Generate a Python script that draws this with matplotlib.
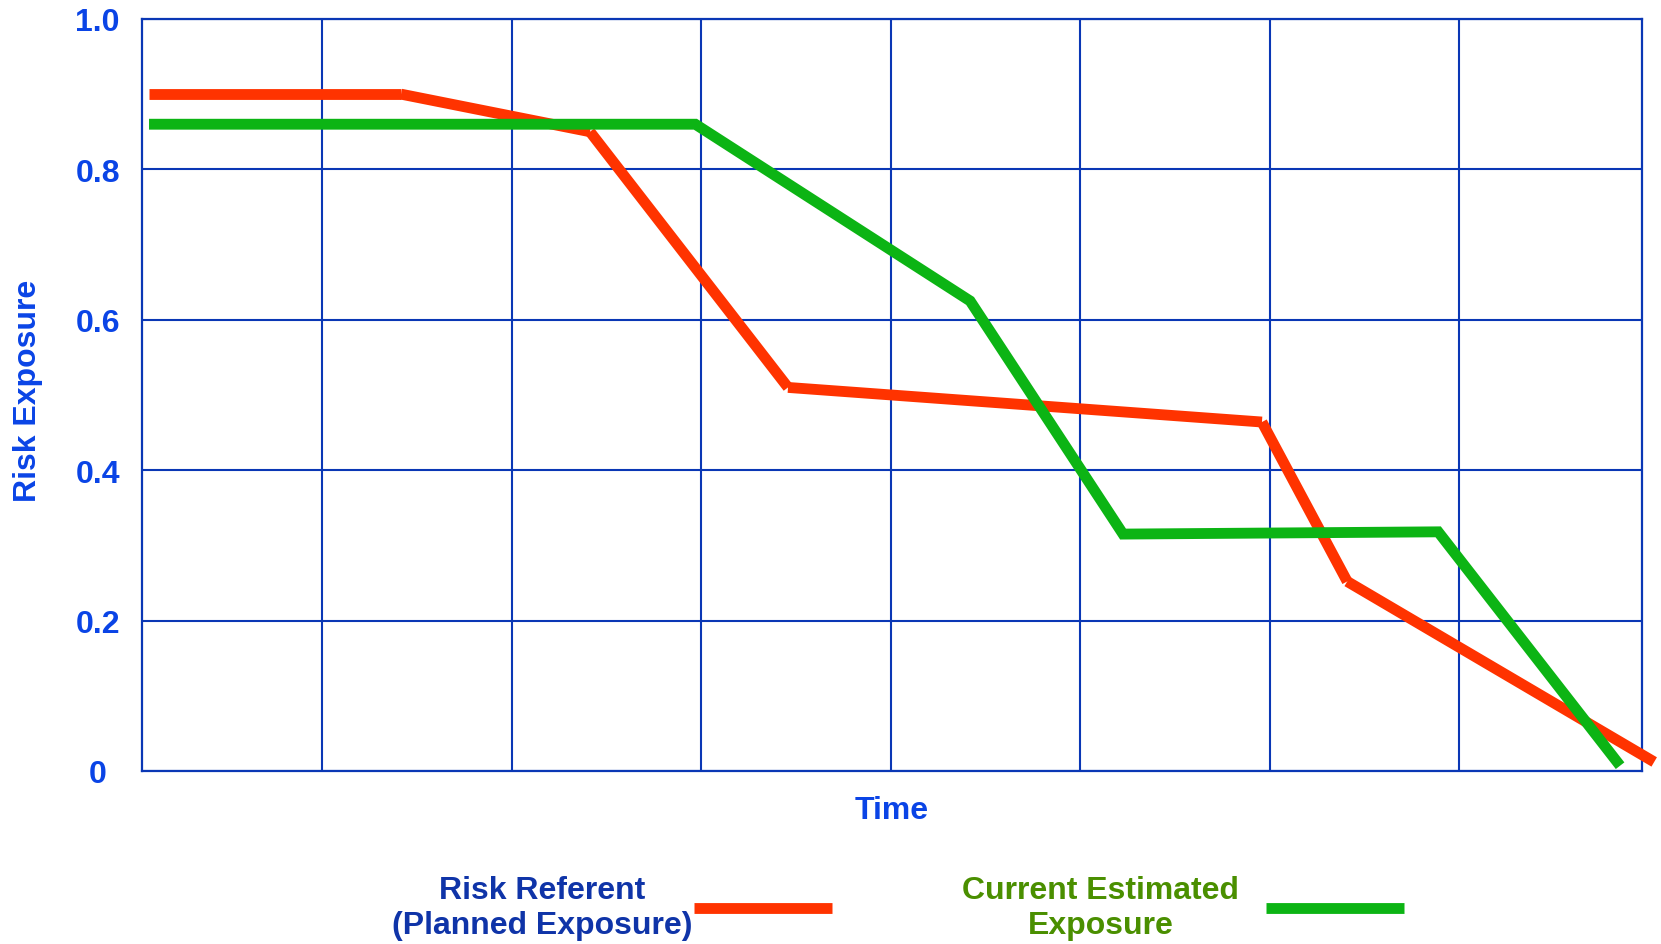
import matplotlib
matplotlib.use("Agg")
import matplotlib.pyplot as plt

# Risk exposure over time (time in grid-column units)
referent_t = [0.087, 1.417, 2.414, 3.459, 5.96, 6.41, 8.03]
referent_re = [0.90, 0.90, 0.850, 0.510, 0.464, 0.252, 0.012]

estimate_t = [0.087, 2.97, 4.42, 5.227, 6.89, 7.85]
estimate_re = [0.86, 0.86, 0.625, 0.315, 0.318, 0.007]

y_ticks = [0, 0.2, 0.4, 0.6, 0.8, 1.0]
y_tick_labels = ["0", "0.2", "0.4", "0.6", "0.8", "1.0"]
time_grid = [1, 2, 3, 4, 5, 6, 7]

RED = "#FF3300"
GREEN = "#0CB414"
GRID_BLUE = "#0A37B5"
LABEL_BLUE = "#0A44E6"
NAVY = "#0F34A8"
OLIVE = "#4A8F00"

plt.rcParams["font.family"] = ["Liberation Sans", "DejaVu Sans"]
plt.rcParams["font.weight"] = "bold"

fig = plt.figure(figsize=(16.61, 9.45), dpi=100)
ax = fig.add_axes([0.0855, 0.1831, 0.9031, 0.7958])

ax.set_xlim(0.05, 7.966)
ax.set_ylim(0, 1.0)

# planned exposure is drawn as separate strokes, so the joints show butt ends
red_handle = None
for i in range(len(referent_t) - 1):
    ln, = ax.plot(referent_t[i:i + 2], referent_re[i:i + 2], color=RED, lw=7.8,
                  solid_capstyle="butt", clip_on=False, zorder=3)
    if red_handle is None:
        red_handle = ln

green_handle, = ax.plot(estimate_t, estimate_re, color=GREEN, lw=7.8,
                        solid_capstyle="butt", solid_joinstyle="miter",
                        clip_on=False, zorder=3)

ax.set_xticks(time_grid)
ax.set_xticklabels([])
ax.set_yticks(y_ticks)
ax.set_yticklabels(y_tick_labels, fontsize=23, color=LABEL_BLUE, fontweight="bold")
for lab in ax.get_yticklabels():
    lab.set_horizontalalignment("center")
ax.tick_params(axis="both", length=0)
ax.tick_params(axis="y", pad=32)

ax.grid(True, color=GRID_BLUE, lw=1.5)
ax.set_axisbelow(True)
for sp in ax.spines.values():
    sp.set_color(GRID_BLUE)
    sp.set_linewidth(1.6)

ax.set_xlabel("Time", fontsize=23, color=LABEL_BLUE, fontweight="bold", labelpad=14)
ax.set_ylabel("Risk Exposure", fontsize=23, color=LABEL_BLUE, fontweight="bold")
ax.yaxis.set_label_coords(-0.066, 0.507)

# two legend entries, each with its own spacing between text and line
leg_specs = [
    (red_handle, "Risk Referent\n(Planned Exposure)", NAVY, 0.3684, 0.05),
    (green_handle, "Current Estimated\nExposure", OLIVE, 0.7122, 0.85),
]
for handle, label, color, xc, pad in leg_specs:
    leg = fig.legend([handle], [label], loc="center",
                     bbox_to_anchor=(xc, 0.0388), markerfirst=False,
                     frameon=False, handlelength=4.3, handletextpad=pad,
                     borderpad=0, labelcolor=color,
                     prop={"size": 23, "weight": "bold"})
    for t in leg.get_texts():
        t.set_multialignment("center")

fig.savefig("out.png", dpi=100)
